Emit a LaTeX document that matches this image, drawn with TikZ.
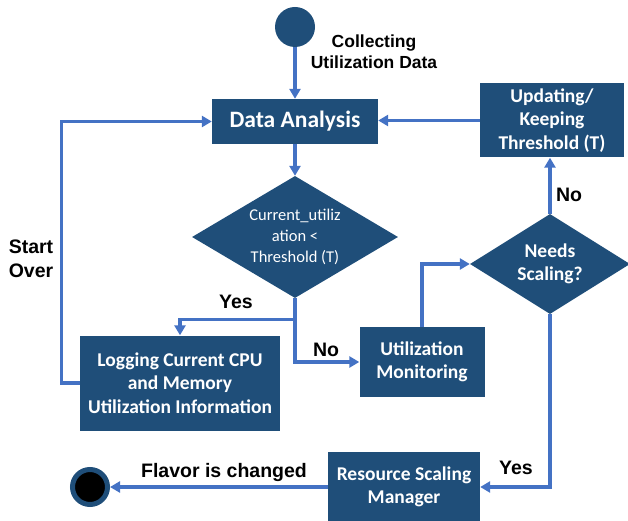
\documentclass[tikz,border=0pt]{standalone}
\usepackage{fontspec}
\setmainfont{Liberation Sans}
\newfontfamily\boxfont{Carlito}
\usetikzlibrary{shapes.geometric,arrows.meta}
\definecolor{dblue}{RGB}{31,78,121}
\definecolor{lblue}{RGB}{68,114,196}
\begin{document}
\begin{tikzpicture}[x=1pt,y=-1pt,
  box/.style={rectangle,fill=dblue,text=white,align=center,inner sep=2pt,
    font=\boxfont\bfseries\fontsize{19.5}{23.5}\selectfont},
  dia/.style={diamond,fill=dblue,text=white,align=center,inner sep=0pt},
  line/.style={draw=lblue,line width=3.2pt},
  conn/.style={line,-{Triangle[length=10pt,width=11pt]}},
  lbl/.style={font=\bfseries\fontsize{19.5}{24.5}\selectfont,align=center,text=black}]
\useasboundingbox (0,0) rectangle (628,521);
% nodes
\node[circle,fill=dblue,minimum size=40pt,inner sep=0pt] (start) at (295,27) {};
\node[box,minimum width=166pt,minimum height=45pt,font=\boxfont\bfseries\fontsize{23.5}{26}\selectfont] (da) at (295,121.5) {Data Analysis};
\node[dia,aspect=1.69,minimum width=206pt,minimum height=122pt,font=\boxfont\fontsize{16.5}{21}\selectfont] (d1) at (295,237) {Current\_utiliz\\ation <\\Threshold (T)};
\node[box,minimum width=200pt,minimum height=95pt] (log) at (180,383) {Logging Current CPU\\and Memory\\Utilization Information};
\node[box,minimum width=125pt,minimum height=70pt] (um) at (422,362) {Utilization\\Monitoring};
\node[dia,aspect=1.6,minimum width=160pt,minimum height=100pt,font=\boxfont\bfseries\fontsize{19.5}{23.5}\selectfont] (d2) at (550,264) {Needs\\Scaling?};
\node[box,minimum width=144pt,minimum height=74pt] (upd) at (552,120.5) {Updating/\\Keeping\\Threshold (T)};
\node[box,minimum width=152pt,minimum height=70pt] (rsm) at (404,487) {Resource Scaling\\Manager};
\node[circle,fill=black,draw=dblue,line width=5pt,minimum size=35pt,inner sep=0pt] (endc) at (90,487) {};
% labels
\node[lbl,font=\bfseries\fontsize{17.5}{21}\selectfont] (lcol) at (374,52) {Collecting\\Utilization Data};
\node[lbl] (lyes1) at (236,302) {Yes};
\node[lbl] (lno1) at (326,350) {No};
\node[lbl] (lno2) at (569,195) {No};
\node[lbl] (lyes2) at (516,468) {Yes};
\node[lbl] (lflav) at (224,472) {Flavor is changed};
\node[lbl] (lstart) at (31,259) {Start\\Over};
% connectors
\draw[conn] (start) -- (da);
\draw[conn] (da) -- (d1);
\draw[line] (d1.south) -- ++(0,21) coordinate (split);
\draw[conn] (split) -| (log.north);
\draw[conn] (split) |- (um.west);
\draw[conn] (log.west) -- ++(-18,0) |- (da.west);
\draw[conn] (um.north) |- (d2.west);
\draw[conn] (d2.north) -- (d2.north |- upd.south);
\draw[conn] (upd.west) -- (upd.west -| da.east);
\draw[conn] (d2.south) |- (rsm.east);
\draw[conn] (rsm.west) -- (endc);
\end{tikzpicture}
\end{document}
